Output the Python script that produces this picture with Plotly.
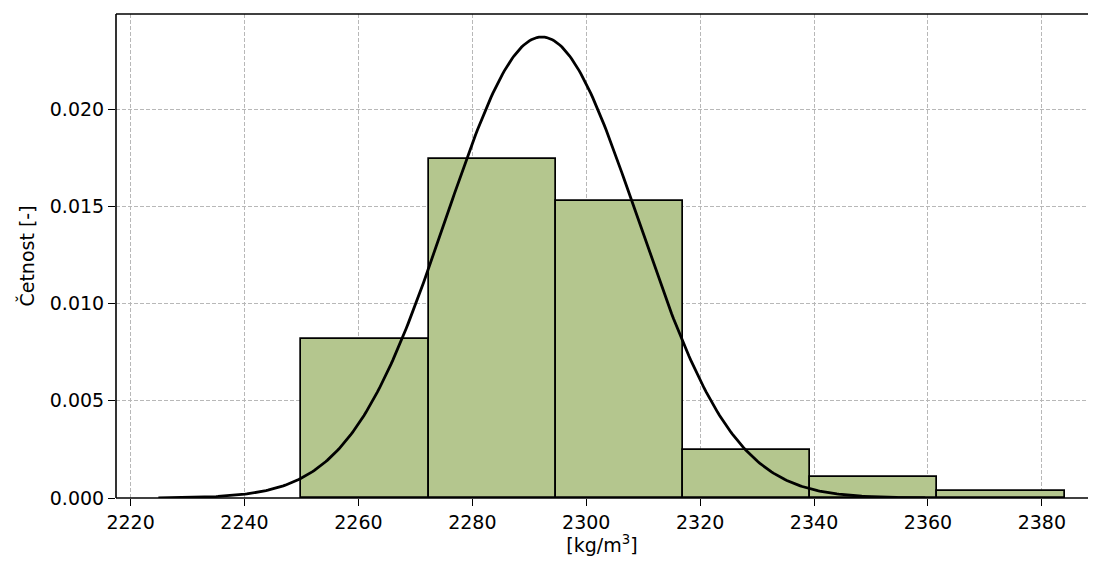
import numpy as np
import plotly.graph_objects as go

# Histogram data (density)
bin_edges = [2250.0, 2272.33, 2294.67, 2317.0, 2339.33, 2361.67, 2384.0]
densities = [0.00817, 0.01743, 0.01527, 0.00247, 0.00108, 0.00036]

# Fitted normal distribution parameters
mu = 2292.2
sigma = 16.83

x_ticks = [2220, 2240, 2260, 2280, 2300, 2320, 2340, 2360, 2380]
y_ticks = [0.000, 0.005, 0.010, 0.015, 0.020]

edges = np.array(bin_edges)
centers = (edges[:-1] + edges[1:]) / 2
widths = np.diff(edges)

xs = np.linspace(mu - 4 * sigma, mu + 4 * sigma, 400)
pdf = np.exp(-0.5 * ((xs - mu) / sigma) ** 2) / (sigma * np.sqrt(2 * np.pi))

fig = go.Figure()
fig.add_trace(go.Bar(
    x=centers, y=densities, width=widths,
    marker=dict(color="#b4c68e", line=dict(color="black", width=1.7)),
    showlegend=False,
))
fig.add_trace(go.Scatter(
    x=xs, y=pdf, mode="lines",
    line=dict(color="black", width=2.8),
    showlegend=False,
))

# spines: top, bottom, left
spine = dict(color="black", width=1.6)
fig.add_shape(type="line", xref="paper", yref="paper", x0=0, x1=1, y0=1, y1=1, line=spine)
fig.add_shape(type="line", xref="paper", yref="paper", x0=0, x1=1, y0=0, y1=0, line=spine)
fig.add_shape(type="line", xref="paper", yref="paper", x0=0, x1=0, y0=0, y1=1, line=spine)

font = dict(family="DejaVu Sans", size=19, color="black")
fig.update_layout(
    width=1080, height=548,
    margin=dict(l=108, r=0, t=6, b=58),
    plot_bgcolor="white", paper_bgcolor="white",
    font=font,
    bargap=0,
)
fig.update_xaxes(
    range=[2217.44, 2388.1],
    tickvals=x_ticks, ticktext=[str(v) for v in x_ticks],
    showgrid=True, gridcolor="#b8b8b8", gridwidth=1, griddash="4px,2px",
    showline=False,
    ticks="outside", ticklen=7, tickwidth=1.4, tickcolor="black",
    zeroline=False,
    title=dict(text="[kg/m<sup>3</sup>]", font=font, standoff=6),
)
fig.update_yaxes(
    range=[0, 0.024884],
    tickvals=y_ticks, ticktext=[f"{v:.3f}" for v in y_ticks],
    showgrid=True, gridcolor="#b8b8b8", gridwidth=1, griddash="4px,2px",
    showline=False,
    ticks="outside", ticklen=7, tickwidth=1.4, tickcolor="black",
    zeroline=False,
    title=dict(text="Četnost [-]", font=font, standoff=10),
)

fig.write_html("out.html")
